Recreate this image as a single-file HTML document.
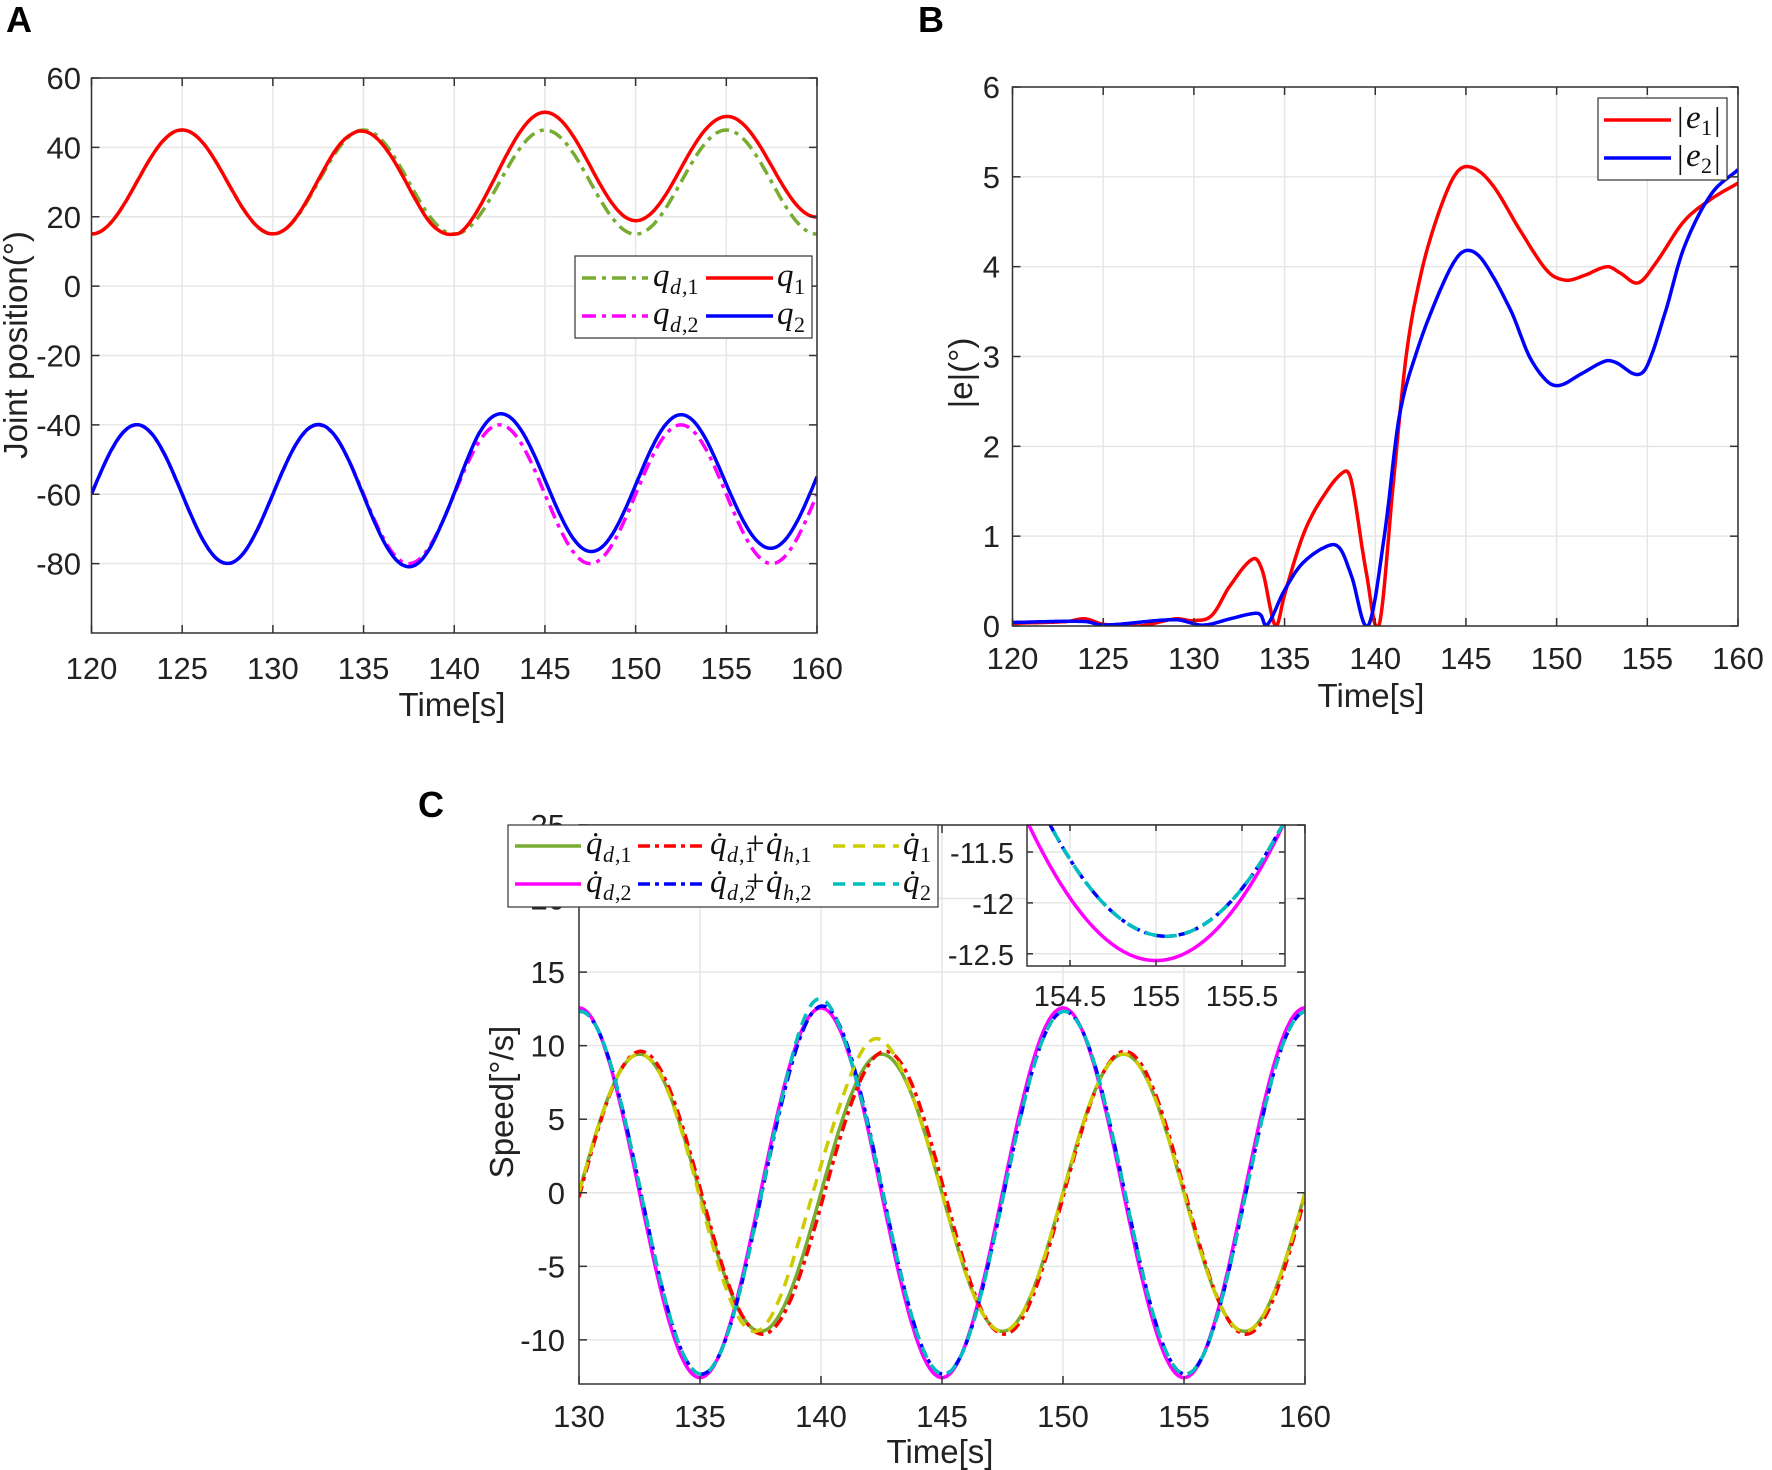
<!DOCTYPE html>
<html><head><meta charset="utf-8"><style>
html,body{margin:0;padding:0;background:#fff}
svg{display:block}
text{font-family:"Liberation Sans",sans-serif;fill:#222}
.tk{font-size:31px}
.lb{font-size:33px}
.m{font-family:"Liberation Serif",serif;font-style:italic;font-size:33px;fill:#111}
.ms{font-family:"Liberation Serif",serif;font-style:italic;font-size:22px;fill:#111}
.mu{font-family:"Liberation Serif",serif;font-size:22px;fill:#111}
.L{font-family:"Liberation Sans",sans-serif;font-weight:bold;font-size:36px;fill:#000}
</style></head><body>
<svg id="s" width="1772" height="1470" viewBox="0 0 1772 1470" xmlns="http://www.w3.org/2000/svg"></svg>
<script>
var S=document.getElementById('s');var out='';
function G(x){return Math.exp(-x*x);}
function ax(o){var X=function(v){return o.x0+(v-o.xa)/(o.xb-o.xa)*(o.x1-o.x0);};var Y=function(v){return o.y1-(v-o.ya)/(o.yb-o.ya)*(o.y1-o.y0);};return{X:X,Y:Y,o:o};}
function frame(A,xt,yt){var o=A.o;var s='';
 s+='<rect x="'+o.x0+'" y="'+o.y0+'" width="'+(o.x1-o.x0)+'" height="'+(o.y1-o.y0)+'" fill="#fff"/>';
 xt.forEach(function(v){var x=A.X(v);s+='<line x1="'+x+'" y1="'+o.y0+'" x2="'+x+'" y2="'+o.y1+'" stroke="#e6e6e6" stroke-width="1.5"/>';});
 yt.forEach(function(v){var y=A.Y(v);s+='<line x1="'+o.x0+'" y1="'+y+'" x2="'+o.x1+'" y2="'+y+'" stroke="#e6e6e6" stroke-width="1.5"/>';});
 return s;}
function box(A,xt,yt,opt){var o=A.o;var s='';var tl=opt.tl||8;var fs=opt.fs||31;
 xt.forEach(function(v){var x=A.X(v);s+='<line x1="'+x+'" y1="'+o.y1+'" x2="'+x+'" y2="'+(o.y1-tl)+'" stroke="#333" stroke-width="1.5"/><line x1="'+x+'" y1="'+o.y0+'" x2="'+x+'" y2="'+(o.y0+tl)+'" stroke="#333" stroke-width="1.5"/>';
  s+='<text class="tk" x="'+x+'" y="'+opt.xly+'" text-anchor="middle" style="font-size:'+fs+'px">'+v+'</text>';});
 yt.forEach(function(v){var y=A.Y(v);s+='<line x1="'+o.x0+'" y1="'+y+'" x2="'+(o.x0+tl)+'" y2="'+y+'" stroke="#333" stroke-width="1.5"/><line x1="'+o.x1+'" y1="'+y+'" x2="'+(o.x1-tl)+'" y2="'+y+'" stroke="#333" stroke-width="1.5"/>';
  s+='<text class="tk" x="'+opt.ylx+'" y="'+(y+11)+'" text-anchor="end" style="font-size:'+fs+'px">'+v+'</text>';});
 s+='<rect x="'+o.x0+'" y="'+o.y0+'" width="'+(o.x1-o.x0)+'" height="'+(o.y1-o.y0)+'" fill="none" stroke="#333" stroke-width="1.5"/>';return s;}
function path(A,f,a,b,col,w,dash,clip){var d='';var n=600;for(var i=0;i<=n;i++){var t=a+(b-a)*i/n;var v=f(t);d+=(i?'L':'M')+A.X(t).toFixed(1)+','+A.Y(v).toFixed(1);}
 return '<path d="'+d+'" fill="none" stroke="'+col+'" stroke-width="'+w+'" '+(dash?'stroke-dasharray="'+dash+'"':'')+' '+(clip?'clip-path="url(#'+clip+')"':'')+' stroke-linejoin="round"/>';}
function cr(pts){return function(t){var i=0;while(i<pts.length-2&&t>pts[i+1][0])i++;var p1=pts[i],p2=pts[i+1],p0=pts[Math.max(0,i-1)],p3=pts[Math.min(pts.length-1,i+2)];
 var u=(t-p1[0])/(p2[0]-p1[0]);var m1=(p2[1]-p0[1])/(p2[0]-p0[0])*(p2[0]-p1[0]);var m2=(p3[1]-p1[1])/(p3[0]-p1[0])*(p2[0]-p1[0]);
 var u2=u*u,u3=u2*u;return (2*u3-3*u2+1)*p1[1]+(u3-2*u2+u)*m1+(-2*u3+3*u2)*p2[1]+(u3-u2)*m2;};}
var e1=cr([[120,0.03],[123,0.05],[124,0.08],[125,0.02],[127,0.0],[129,0.08],[130,0.06],[131,0.12],[132,0.45],[133.3,0.75],[133.8,0.6],[134.5,0],[135,0.35],[136,1.0],[137,1.4],[138.3,1.72],[138.7,1.6],[139.5,0.6],[140.2,0],[141,1.6],[141.7,3.0],[142.5,3.9],[143.5,4.6],[144.5,5.05],[145.4,5.1],[146.5,4.9],[148,4.4],[149.5,3.95],[150.5,3.85],[151.5,3.9],[152.8,4.0],[153.5,3.93],[154.5,3.82],[155.5,4.05],[157,4.5],[158.5,4.75],[160,4.93]]);
var e2=cr([[120,0.04],[124,0.05],[125,0.01],[129,0.07],[130.5,0.01],[132,0.08],[133.3,0.14],[133.7,0.12],[134,0],[135,0.4],[136,0.7],[137.5,0.9],[138.1,0.85],[138.7,0.55],[139.6,0],[140.5,1.0],[141.3,2.3],[142.2,3.0],[143.5,3.7],[144.5,4.1],[145.2,4.18],[146,4.05],[147.5,3.5],[148.5,3.0],[149.5,2.72],[150.2,2.68],[151.3,2.8],[152.7,2.95],[153.3,2.93],[154.4,2.8],[155,2.9],[156,3.5],[157,4.2],[158.5,4.8],[160,5.08]]);
var P=Math.PI;
function qd1(t){return 30-15*Math.cos(2*P*t/10);}
function qd2(t){return -60+20*Math.sin(2*P*(t-120)/10);}
function s1(t){return t>140.2?1:(t>134.5?-1:1);}
function s2(t){return t>139.6?1:(t>134?-1:1);}
function q1(t){return qd1(t)+s1(t)*Math.max(0,e1(t));}
function q2(t){return qd2(t)+s2(t)*Math.max(0,e2(t));}
out+='<defs><clipPath id="cA"><rect x="91.5" y="78" width="725.5" height="555"/></clipPath><clipPath id="cB"><rect x="1012.5" y="87" width="725.5" height="539"/></clipPath><clipPath id="cC"><rect x="579" y="825" width="726" height="559"/></clipPath><clipPath id="cI"><rect x="1027" y="825" width="258" height="141"/></clipPath></defs>';
var A=ax({x0:91.5,x1:817,y0:78,y1:633,xa:120,xb:160,ya:-100,yb:60});
var xtA=[120,125,130,135,140,145,150,155,160],ytA=[-80,-60,-40,-20,0,20,40,60];
out+=frame(A,xtA,ytA);
out+=path(A,qd1,120,160,'#77ac30',3.5,'14,6,4,6','cA');
out+=path(A,q1,120,160,'#ff0000',3.5,null,'cA');
out+=path(A,qd2,120,160,'#ff00ff',3.5,'14,6,4,6','cA');
out+=path(A,q2,120,160,'#0000ff',3.5,null,'cA');
out+=box(A,xtA,ytA,{xly:679,ylx:81});
out+='<text class="lb" x="452" y="716" text-anchor="middle">Time[s]</text>';
out+='<text class="lb" x="0" y="0" text-anchor="middle" transform="translate(27,345) rotate(-90)">Joint position(°)</text>';
out+='<text class="L" x="6" y="32">A</text>';
out+='<rect x="575" y="256" width="237" height="82" fill="#fff" stroke="#333" stroke-width="1.2"/>';
out+='<line x1="582" y1="278" x2="648" y2="278" stroke="#77ac30" stroke-width="3.5" stroke-dasharray="14,6,4,6"/><line x1="706" y1="278" x2="773" y2="278" stroke="#ff0000" stroke-width="3.5"/>';
out+='<line x1="582" y1="316" x2="648" y2="316" stroke="#ff00ff" stroke-width="3.5" stroke-dasharray="14,6,4,6"/><line x1="706" y1="316" x2="773" y2="316" stroke="#0000ff" stroke-width="3.5"/>';
out+='<text class="m" x="653" y="286">q</text><text class="ms" x="670" y="294">d</text><text class="mu" x="682" y="294">,1</text>';
out+='<text class="m" x="777" y="286">q</text><text class="mu" x="794" y="294">1</text>';
out+='<text class="m" x="653" y="324">q</text><text class="ms" x="670" y="332">d</text><text class="mu" x="682" y="332">,2</text>';
out+='<text class="m" x="777" y="324">q</text><text class="mu" x="794" y="332">2</text>';
var B=ax({x0:1012.5,x1:1738,y0:87,y1:626,xa:120,xb:160,ya:0,yb:6});
var ytB=[0,1,2,3,4,5,6];
out+=frame(B,xtA,ytB);
out+=path(B,function(t){return Math.max(0,e1(t));},120,160,'#ff0000',3.5,null,'cB');
out+=path(B,function(t){return Math.max(0,e2(t));},120,160,'#0000ff',3.5,null,'cB');
out+=box(B,xtA,ytB,{xly:669,ylx:1000});
out+='<text class="lb" x="1371" y="707" text-anchor="middle">Time[s]</text>';
out+='<text class="lb" x="0" y="0" text-anchor="middle" transform="translate(972,373) rotate(-90)">|e|(°)</text>';
out+='<text class="L" x="918" y="32">B</text>';
out+='<rect x="1598" y="98" width="129" height="82" fill="#fff" stroke="#333" stroke-width="1.2"/>';
out+='<line x1="1604" y1="120" x2="1671" y2="120" stroke="#ff0000" stroke-width="3.5"/><line x1="1604" y1="158" x2="1671" y2="158" stroke="#0000ff" stroke-width="3.5"/>';
out+='<text class="m" x="1677" y="130" style="font-style:normal">|</text><text class="m" x="1686" y="128">e</text><text class="mu" x="1701" y="135">1</text><text class="m" x="1714" y="130" style="font-style:normal">|</text>';
out+='<text class="m" x="1677" y="168" style="font-style:normal">|</text><text class="m" x="1686" y="166">e</text><text class="mu" x="1701" y="173">2</text><text class="m" x="1714" y="168" style="font-style:normal">|</text>';
var C=ax({x0:579,x1:1305,y0:825,y1:1384,xa:130,xb:160,ya:-13,yb:25});
var xtC=[130,135,140,145,150,155,160],ytC=[-10,-5,0,5,10,15,20,25];
var W=2*P/10;
function qd1d(t){return 15*W*Math.sin(W*t);}
function qd2d(t){return 20*W*Math.cos(W*(t-120));}
function r1(t){return 1.02*qd1d(t-0.12*G((t-142)/4)-0.05);}
function y1f(t){return (1+0.12*G((t-142)/1.3))*15*W*Math.sin(W*(t+0.35*G((t-139)/3)));}
function b2(t){return 0.981*qd2d(t-0.06)*(1+0.03*G((t-140)/1.5));}
function c2(t){return 0.981*qd2d(t-0.06+0.12*G((t-140)/1.5))*(1+0.07*G((t-140)/1.2));}
out+=frame(C,xtC,ytC);
out+=path(C,qd1d,130,160,'#77ac30',3.5,null,'cC');
out+=path(C,qd2d,130,160,'#ff00ff',3.5,null,'cC');
out+=path(C,r1,130,160,'#ff0000',3.5,'12,5,4,5','cC');
out+=path(C,b2,130,160,'#0000ff',3.5,'12,5,4,5','cC');
out+=path(C,y1f,130,160,'#cccc00',3.5,'12,8','cC');
out+=path(C,c2,130,160,'#00bfbf',3.5,'12,8','cC');
out+=box(C,xtC,ytC,{xly:1427,ylx:565});
out+='<text class="lb" x="940" y="1463" text-anchor="middle">Time[s]</text>';
out+='<text class="lb" x="0" y="0" text-anchor="middle" transform="translate(513,1102) rotate(-90)">Speed[°/s]</text>';
out+='<text class="L" x="418" y="817">C</text>';
var I=ax({x0:1027,x1:1285,y0:825,y1:966,xa:154.25,xb:155.75,ya:-12.62,yb:-11.235});
var xtI=[154.5,155,155.5],ytI=[-12.5,-12,-11.5];
out+=frame(I,xtI,ytI);
out+=path(I,qd2d,154.25,155.75,'#ff00ff',3.5,null,'cI');
out+=path(I,b2,154.25,155.75,'#0000ff',3.5,'12,5,4,5','cI');
out+=path(I,c2,154.25,155.75,'#00bfbf',3.5,'12,8','cI');
out+=box(I,xtI,ytI,{xly:1006,ylx:1014,fs:29,tl:6});
out+='<rect x="508" y="825" width="430" height="82" fill="#fff" stroke="#333" stroke-width="1.2"/>';
var lg=[[515,846,'#77ac30',null],[515,884,'#ff00ff',null],[638,846,'#ff0000','12,5,4,5'],[638,884,'#0000ff','12,5,4,5'],[833,846,'#cccc00','12,8'],[833,884,'#00bfbf','12,8']];
lg.forEach(function(l){out+='<line x1="'+l[0]+'" y1="'+l[1]+'" x2="'+(l[0]+66)+'" y2="'+l[1]+'" stroke="'+l[2]+'" stroke-width="3.5" '+(l[3]?'stroke-dasharray="'+l[3]+'"':'')+'/>';});
function qd(x,y,sub,ital){return '<text class="m" x="'+x+'" y="'+y+'">q̇</text>'+(ital?'<text class="ms" x="'+(x+17)+'" y="'+(y+8)+'">'+ital+'</text><text class="mu" x="'+(x+29)+'" y="'+(y+8)+'">'+sub+'</text>':'<text class="mu" x="'+(x+17)+'" y="'+(y+8)+'">'+sub+'</text>');}
out+=qd(586,854,',1','d')+qd(586,892,',2','d');
out+=qd(710,854,',1','d')+'<text class="m" x="746" y="854" style="font-style:normal">+</text>'+qd(766,854,',1','h');
out+=qd(710,892,',2','d')+'<text class="m" x="746" y="892" style="font-style:normal">+</text>'+qd(766,892,',2','h');
out+=qd(903,854,'1')+qd(903,892,'2');
S.innerHTML=out;
</script>
</body></html>
